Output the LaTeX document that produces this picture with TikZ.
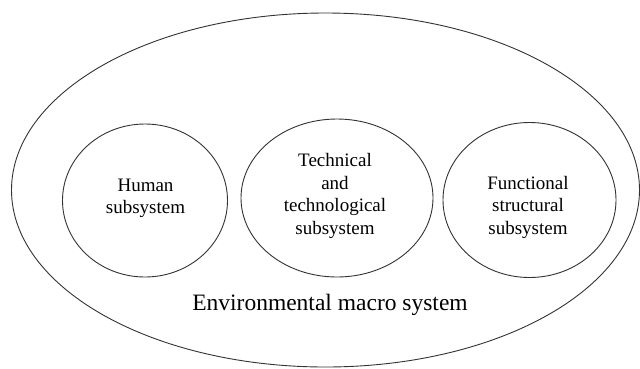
\documentclass[tikz,border=0pt]{standalone}
\usepackage{fontspec}
\setmainfont{Liberation Serif}
\newfontfamily\diagserif{Liberation Serif}
\usetikzlibrary{shapes.geometric}
\tikzset{
  ring/.style={draw=black!80, line width=0.9pt, ellipse, inner sep=0pt},
  innertext/.style={align=center, inner sep=0pt, font=\diagserif\fontsize{19}{22.5}\selectfont},
  outertext/.style={inner sep=0pt, font=\diagserif\fontsize{23.5}{28}\selectfont}
}
\begin{document}
\begin{tikzpicture}[x=1pt,y=-1pt]
\useasboundingbox (0,0) rectangle (640,368);
\fill[white] (0,0) rectangle (640,368);
\node[ring, minimum width=628pt, minimum height=354pt] (macro) at (325.5,190) {};
\node[ring, minimum width=165pt, minimum height=153pt] (human) at (145,200.5) {};
\node[ring, minimum width=192pt, minimum height=158pt] (tech) at (337,198) {};
\node[ring, minimum width=173pt, minimum height=155pt] (func) at (529.5,200) {};
\node[innertext] (humant) at (145.5,198.5) {Human\\subsystem};
\node[innertext] (techt) at (335,196) {Technical\\and\\technological\\subsystem};
\node[innertext] (funct) at (528,207) {Functional\\structural\\subsystem};
\node[outertext] (macrot) at (330,305) {Environmental macro system};
\end{tikzpicture}
\end{document}
